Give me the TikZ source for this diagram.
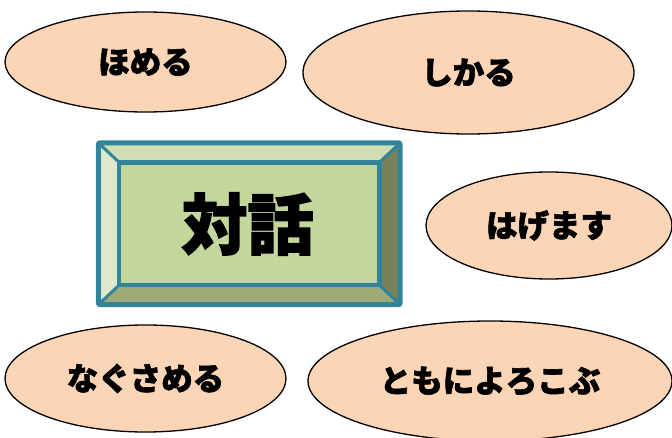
\documentclass[tikz,border=0pt]{standalone}
\usepackage{fontspec}
\usepackage{xcolor}
\usepackage{tikz}
\usetikzlibrary{shapes.geometric}

\newfontfamily\cjk[BoldFeatures={FakeBold=2}]{Noto Sans CJK JP}

\definecolor{peach}{HTML}{FBD5B5}
\definecolor{teal}{HTML}{31849B}
\definecolor{facemid}{HTML}{C3D69B}
\definecolor{facetop}{HTML}{D0DEB2}
\definecolor{faceleft}{HTML}{DEE8CA}
\definecolor{facebottom}{HTML}{9CAA78}
\definecolor{faceright}{HTML}{77815A}

\tikzset{
    act/.style = {ellipse, draw = black, line width = 1.3pt, fill = peach,
                  inner sep = 0pt, font = \cjk\bfseries\fontsize{31.5}{31.5}\selectfont},
    bevel/.style = {rectangle, minimum width = #1, inner sep = 0pt}
}

\begin{document}
\begin{tikzpicture}[x=1pt, y=1pt]
    		\useasboundingbox (0,0) rectangle (672,437);
    		
    		\node (homeru)[act, minimum width = 281, minimum height = 100] at (145.5,375) {ほめる};
    		\node (shikaru)[act, minimum width = 331, minimum height = 123] at (468.5,364.5) {しかる};
    		\node (hagemasu)[act, minimum width = 246, minimum height = 107] at (549,211.5) {はげます};
    		\node (nagusameru)[act, minimum width = 281, minimum height = 107] at (145.5,58.5) {なぐさめる};
    		\node (tomoni)[act, minimum width = 364, minimum height = 120] at (490,56) {ともによろこぶ};
    		
    		\node (outer)[bevel = 301.5, minimum height = 161.5] at (249.25,213.25) {};
    		\node (inner)[bevel = 260, minimum height = 122.5] at (249.25,213.25) {};
    		
    		\fill[facetop] (outer.north west) -- (outer.north east) -- (inner.north east) -- (inner.north west) -- cycle;
    		\fill[faceleft] (outer.north west) -- (inner.north west) -- (inner.south west) -- (outer.south west) -- cycle;
    		\fill[facebottom] (outer.south west) -- (inner.south west) -- (inner.south east) -- (outer.south east) -- cycle;
    		\fill[faceright] (outer.north east) -- (outer.south east) -- (inner.south east) -- (inner.north east) -- cycle;
    		\fill[facemid] (inner.north west) rectangle (inner.south east);
    		
    		\draw[teal, line width = 3pt] (outer.north west) -- (inner.north west);
    		\draw[teal, line width = 3pt] (outer.north east) -- (inner.north east);
    		\draw[teal, line width = 3pt] (outer.south west) -- (inner.south west);
    		\draw[teal, line width = 3pt] (outer.south east) -- (inner.south east);
    		\draw[teal, line width = 4.5pt] (inner.north west) rectangle (inner.south east);
    		\draw[teal, line width = 5pt, rounded corners = 2pt] (outer.north west) rectangle (outer.south east);
    		
    		\node (taiwa)[font = \cjk\bfseries\fontsize{66}{66}\selectfont] at (247.5,213) {対話};
    	\end{tikzpicture}
\end{document}
